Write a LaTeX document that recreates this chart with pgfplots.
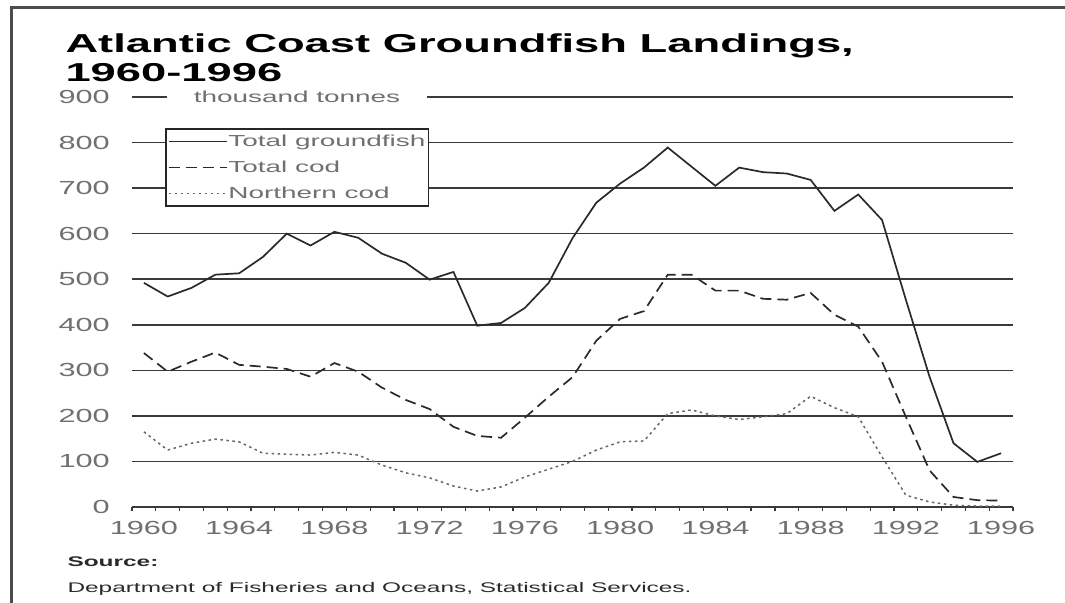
\documentclass[border=0pt]{standalone}
\usepackage{fontspec}
\setmainfont{Liberation Sans}[FakeStretch=1.75]
\newfontfamily\tickfont{Liberation Sans}[FakeStretch=1.62]
\usepackage{pgfplots}
\pgfplotsset{compat=1.18}
\definecolor{gridc}{HTML}{3A3A3A}
\definecolor{lab}{HTML}{707070}
\definecolor{ink}{HTML}{2A2A2A}

\begin{document}
\begin{tikzpicture}[x=1bp,y=1bp]
\useasboundingbox (0,0) rectangle (1065,603);
% frame
\draw[black!70, line width=3bp] (11,0) -- (11,595) -- (1065,595);
% title
\node[anchor=base west, font=\bfseries\fontsize{26}{30}\selectfont] at (62,550) {Atlantic Coast Groundfish Landings,};
\node[anchor=base west, font=\bfseries\fontsize{26}{30}\selectfont] at (62,521) {1960-1996};

\begin{axis}[
  at={(132bp,96bp)}, anchor=south west,
  scale only axis, width=881bp, height=410bp,
  xmin=1959.5, xmax=1996.5, ymin=0, ymax=900,
  clip mode=individual,
  axis lines*=left,
  y axis line style={draw=none},
  x axis line style={gridc, line width=1.5bp},
  xtick={1960,1964,...,1996},
  xticklabels={1960,1964,1968,1972,1976,1980,1984,1988,1992,1996},
  minor xtick={1959.5,1960.5,...,1996.5},
  ytick={0,100,...,900},
  yticklabels={0,100,200,300,400,500,600,700,800,900},
  tick align=outside,
  major tick length=0bp, minor tick length=4bp,
  minor tick style={gridc, line width=1.2bp},
  ymajorgrids, xmajorgrids=false,
  major grid style={gridc, line width=1.6bp},
  ticklabel style={font=\tickfont\fontsize{19}{21}\selectfont, text=lab},
  xticklabel style={inner sep=0bp, yshift=-14bp},
  yticklabel style={inner sep=0bp, xshift=-22bp},
  legend style={at={(rel axis cs:0.0375,0.924)}, anchor=north west,
    draw=black!85, line width=1.5bp, fill=white,
    font=\fontsize{16}{18}\selectfont, text=lab,
    inner xsep=2bp, inner ysep=5bp, row sep=11bp,
    nodes={inner sep=1bp}},
  legend cell align=left,
  legend image code/.code={\draw[#1] (0bp,0bp) -- (58bp,0bp);},
]
\addplot[ink, line width=1.7bp] coordinates {
(1960,492) (1961,462) (1962,481) (1963,510) (1964,513) (1965,549)
(1966,600) (1967,574) (1968,604) (1969,591) (1970,556) (1971,536)
(1972,499) (1973,516) (1974,398) (1975,404) (1976,437) (1977,492)
(1978,590) (1979,668) (1980,710) (1981,745) (1982,789) (1983,747)
(1984,705) (1985,745) (1986,735) (1987,732) (1988,718) (1989,650)
(1990,686) (1991,630) (1992,455) (1993,285) (1994,140) (1995,99)
(1996,118)};
\addlegendentry{Total groundfish}
\addplot[ink, line width=1.7bp, dash pattern=on 11bp off 6bp] coordinates {
(1960,338) (1961,297) (1962,319) (1963,339) (1964,312) (1965,308)
(1966,303) (1967,286) (1968,316) (1969,297) (1970,262) (1971,235)
(1972,215) (1973,176) (1974,156) (1975,152) (1976,196) (1977,242)
(1978,285) (1979,365) (1980,413) (1981,430) (1982,510) (1983,510)
(1984,475) (1985,475) (1986,457) (1987,455) (1988,470) (1989,422)
(1990,396) (1991,319) (1992,198) (1993,80) (1994,22) (1995,15)
(1996,14)};
\addlegendentry{Total cod}
\addplot[black!60, line width=1.5bp, dash pattern=on 2.5bp off 3.5bp] coordinates {
(1960,165) (1961,125) (1962,140) (1963,149) (1964,143) (1965,118)
(1966,116) (1967,114) (1968,120) (1969,114) (1970,92) (1971,75)
(1972,64) (1973,46) (1974,35) (1975,44) (1976,66) (1977,83)
(1978,100) (1979,125) (1980,143) (1981,145) (1982,205) (1983,213)
(1984,200) (1985,192) (1986,198) (1987,205) (1988,243) (1989,218)
(1990,198) (1991,110) (1992,26) (1993,11) (1994,4) (1995,2)
(1996,2)};
\addlegendentry{Northern cod}
\node[fill=white, text=lab, font=\fontsize{16}{18}\selectfont,
  inner xsep=27bp, inner ysep=3bp] at (axis cs:1966.43,900) {thousand tonnes};
\end{axis}

% source
\node[anchor=base west, font=\bfseries\fontsize{14}{16}\selectfont, text=ink] at (64,36) {Source:};
\node[anchor=base west, font=\fontsize{14}{16}\selectfont, text=ink] at (64,10) {Department of Fisheries and Oceans, Statistical Services.};
\end{tikzpicture}
\end{document}
